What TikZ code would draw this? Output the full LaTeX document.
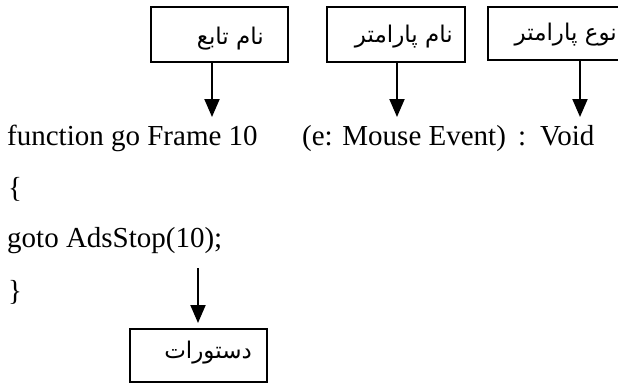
\documentclass[tikz,border=0pt]{standalone}
\usepackage{fontspec}
\setmainfont{Liberation Serif}
\newfontfamily\farsi[Script=Arabic]{DejaVu Sans}
\TeXXeTstate=1
\usetikzlibrary{arrows.meta}
\tikzset{
  boxnode/.style={draw, line width=2.4pt, inner sep=0pt},
  fa/.style={anchor=base east, inner sep=0pt, font=\farsi\fontsize{23}{26}\selectfont},
  code/.style={anchor=base west, inner sep=0pt, font=\fontsize{29}{34}\selectfont},
  arr/.style={line width=2pt, -{Triangle[width=15pt,length=18pt]}}
}
\begin{document}
\begin{tikzpicture}[x=1pt,y=-1pt]
\useasboundingbox (0,0) rectangle (618,384);
% boxes
\node[boxnode, minimum width=137pt, minimum height=55pt] (b1) at (219.5,34.5) {};
\node[boxnode, minimum width=138pt, minimum height=55pt] (b2) at (396,34.5) {};
\node[boxnode, minimum width=136pt, minimum height=53pt] (b3) at (556,33.5) {};
\node[boxnode, minimum width=137pt, minimum height=53pt] (b4) at (198.5,355.5) {};
% labels
\node[fa] (l1) at (264,44) {\beginR نام تابع\endR};
\node[fa] (l2) at (453,42) {\beginR نام پارامتر\endR};
\node[fa] (l3) at (617,40) {\beginR نوع پارامتر\endR};
\node[fa] (l4) at (252,358) {\beginR دستورات\endR};
% code
\node[code] (c1) at (7,145) {function go Frame 10};
\node[code] (c2) at (302,145) {(e: Mouse Event)};
\node[code] (c3) at (518,145) {:};
\node[code] (c4) at (540,145) {Void};
\node[code] (c5) at (8,197) {\{};
\node[code] (c6) at (7,247) {goto AdsStop(10);};
\node[code] (c7) at (8,300) {\}};
% arrow tips
\coordinate (t1) at (212,117);
\coordinate (t2) at (397,117);
\coordinate (t3) at (580,117);
\coordinate (s4) at (198,268);
\coordinate (t4) at (198,323);
\draw[arr] (t1 |- b1.south) -- (t1);
\draw[arr] (t2 |- b2.south) -- (t2);
\draw[arr] (t3 |- b3.south) -- (t3);
\draw[arr] (s4) -- (t4);
\end{tikzpicture}
\end{document}
